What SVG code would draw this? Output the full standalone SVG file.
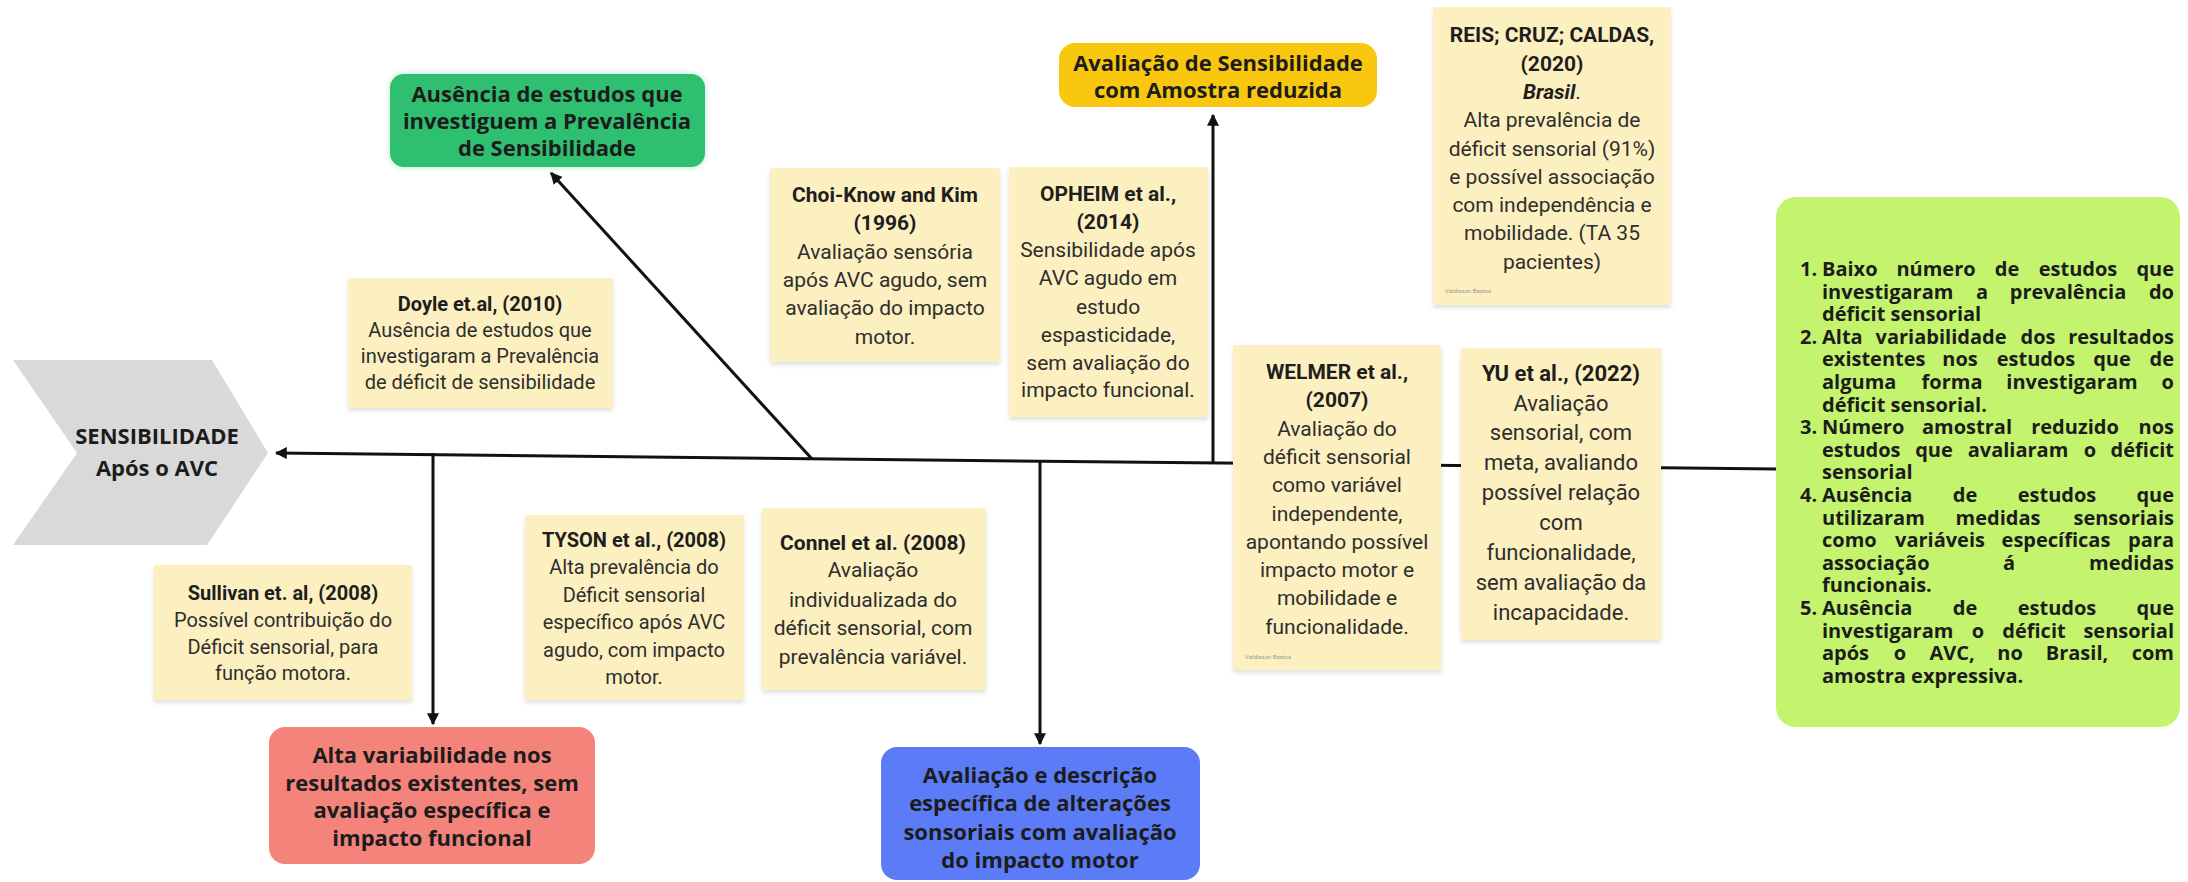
<svg xmlns="http://www.w3.org/2000/svg" width="2188" height="882" viewBox="0 0 2188 882">
<defs>
<style>
.note{fill:#fcf0c0;filter:url(#sh)}
.nt{font-family:Roboto,"Liberation Sans",sans-serif;fill:#2e2e2e;text-anchor:middle}
.nt .b{font-weight:700;fill:#1e1e1e}
.bx{font-family:"Open Sans","Noto Sans",sans-serif;font-weight:700;font-size:22px;fill:#1c1c1c;text-anchor:middle}
.gl{font-family:"Open Sans","Noto Sans",sans-serif;font-weight:700;font-size:20px;fill:#1c1c1c}
.m{text-anchor:middle}.e{text-anchor:end}
.ln{stroke:#111;stroke-width:3;fill:none}
.tiny{font-family:Roboto,sans-serif;font-size:6px;fill:#9a9a8a}
</style>
<filter id="sh" x="-10%" y="-10%" width="120%" height="125%"><feDropShadow dx="0" dy="3" stdDeviation="2" flood-color="#000" flood-opacity="0.12"/></filter>
<filter id="glow" x="-10%" y="-20%" width="120%" height="140%"><feDropShadow dx="0" dy="0" stdDeviation="3" flood-color="#2fbf71" flood-opacity="0.35"/></filter>
<marker id="ah" viewBox="0 0 10 10" refX="9" refY="5" markerWidth="4" markerHeight="4" orient="auto-start-reverse"><path d="M0,0 L10,5 L0,10 z" fill="#111"/></marker>
</defs>
<rect width="2188" height="882" fill="#fff"/>

<g id="connectors">
<path class="ln" d="M1776,469 L276,453" marker-end="url(#ah)"/>
<path class="ln" d="M812,459 L551,173" marker-end="url(#ah)"/>
<path class="ln" d="M1213,463 L1213,115" marker-end="url(#ah)"/>
<path class="ln" d="M433,453 L433,724" marker-end="url(#ah)"/>
<path class="ln" d="M1040,461 L1040,744" marker-end="url(#ah)"/>
</g>

<g id="head">
<polygon points="13,360 212,360 268,453 207,545 13,545 77,453" fill="#d9d9d9"/>
<text class="bx" x="157" y="444">SENSIBILIDADE</text>
<text class="bx" x="157" y="476">Após o AVC</text>
</g>

<g id="cat-prevalencia">
<rect x="390" y="74" width="315" height="93" rx="14" fill="#2fbf71" filter="url(#glow)"/>
<text class="bx" x="547" y="102">Ausência de estudos que</text>
<text class="bx" x="547" y="129">investiguem a Prevalência</text>
<text class="bx" x="547" y="156">de Sensibilidade</text>
</g>

<g id="cat-amostra">
<rect x="1059" y="43" width="318" height="64" rx="16" fill="#f9c80e"/>
<text class="bx" x="1218" y="71">Avaliação de Sensibilidade</text>
<text class="bx" x="1218" y="98">com Amostra reduzida</text>
</g>

<g id="cat-variabilidade">
<rect x="269" y="727" width="326" height="137" rx="16" fill="#f4837b"/>
<text class="bx" x="432" y="763">Alta variabilidade nos</text>
<text class="bx" x="432" y="791">resultados existentes, sem</text>
<text class="bx" x="432" y="818">avaliação específica e</text>
<text class="bx" x="432" y="846">impacto funcional</text>
</g>

<g id="cat-avaliacao">
<rect x="881" y="747" width="319" height="133" rx="16" fill="#5b7cf6"/>
<text class="bx" x="1040" y="783">Avaliação e descrição</text>
<text class="bx" x="1040" y="811">específica de alterações</text>
<text class="bx" x="1040" y="840">sonsoriais com avaliação</text>
<text class="bx" x="1040" y="868">do impacto motor</text>
</g>

<g id="note-doyle">
<rect class="note" x="348" y="278" width="265" height="130" rx="2"/>
<text class="nt" font-size="20"><tspan class="b" x="480" y="311">Doyle et.al, (2010)</tspan><tspan x="480" y="337">Ausência de estudos que</tspan><tspan x="480" y="363">investigaram a Prevalência</tspan><tspan x="480" y="389">de déficit de sensibilidade</tspan></text>
</g>

<g id="note-choi">
<rect class="note" x="770" y="168" width="230" height="194" rx="2"/>
<text class="nt" font-size="21"><tspan class="b" x="885" y="202">Choi-Know and Kim</tspan><tspan class="b" x="885" y="230">(1996)</tspan><tspan x="885" y="259">Avaliação sensória</tspan><tspan x="885" y="287">após AVC agudo, sem</tspan><tspan x="885" y="315">avaliação do impacto</tspan><tspan x="885" y="344">motor.</tspan></text>
</g>

<g id="note-opheim">
<rect class="note" x="1009" y="167" width="199" height="250" rx="2"/>
<text class="nt" font-size="21"><tspan class="b" x="1108" y="201">OPHEIM et al.,</tspan><tspan class="b" x="1108" y="229">(2014)</tspan><tspan x="1108" y="257">Sensibilidade após</tspan><tspan x="1108" y="285">AVC agudo em</tspan><tspan x="1108" y="314">estudo</tspan><tspan x="1108" y="342">espasticidade,</tspan><tspan x="1108" y="370">sem avaliação do</tspan><tspan x="1108" y="397">impacto funcional.</tspan></text>
</g>

<g id="note-reis">
<rect class="note" x="1433" y="7" width="238" height="298" rx="2"/>
<text class="nt" font-size="21"><tspan class="b" x="1552" y="42">REIS; CRUZ; CALDAS,</tspan><tspan class="b" x="1552" y="71">(2020)</tspan><tspan x="1552" y="99"><tspan class="b" font-style="italic">Brasil</tspan>.</tspan><tspan x="1552" y="127">Alta prevalência de</tspan><tspan x="1552" y="156">déficit sensorial (91%)</tspan><tspan x="1552" y="184">e possível associação</tspan><tspan x="1552" y="212">com independência e</tspan><tspan x="1552" y="240">mobilidade. (TA 35</tspan><tspan x="1552" y="269">pacientes)</tspan></text>
<text class="tiny" x="1445" y="293">Valdisson Bastos</text>
</g>

<g id="note-welmer">
<rect class="note" x="1233" y="345" width="208" height="325" rx="2"/>
<text class="nt" font-size="21"><tspan class="b" x="1337" y="379">WELMER et al.,</tspan><tspan class="b" x="1337" y="407">(2007)</tspan><tspan x="1337" y="436">Avaliação do</tspan><tspan x="1337" y="464">déficit sensorial</tspan><tspan x="1337" y="492">como variável</tspan><tspan x="1337" y="521">independente,</tspan><tspan x="1337" y="549">apontando possível</tspan><tspan x="1337" y="577">impacto motor e</tspan><tspan x="1337" y="605">mobilidade e</tspan><tspan x="1337" y="634">funcionalidade.</tspan></text>
<text class="tiny" x="1245" y="659">Valdisson Bastos</text>
</g>

<g id="note-yu">
<rect class="note" x="1461" y="348" width="200" height="292" rx="2"/>
<text class="nt" font-size="22"><tspan class="b" x="1561" y="381">YU et al., (2022)</tspan><tspan x="1561" y="411">Avaliação</tspan><tspan x="1561" y="440">sensorial, com</tspan><tspan x="1561" y="470">meta, avaliando</tspan><tspan x="1561" y="500">possível relação</tspan><tspan x="1561" y="530">com</tspan><tspan x="1561" y="560">funcionalidade,</tspan><tspan x="1561" y="590">sem avaliação da</tspan><tspan x="1561" y="620">incapacidade.</tspan></text>
</g>

<g id="note-sullivan">
<rect class="note" x="154" y="565" width="258" height="135" rx="2"/>
<text class="nt" font-size="20"><tspan class="b" x="283" y="600">Sullivan et. al, (2008)</tspan><tspan x="283" y="627">Possível contribuição do</tspan><tspan x="283" y="654">Déficit sensorial, para</tspan><tspan x="283" y="680">função motora.</tspan></text>
</g>

<g id="note-tyson">
<rect class="note" x="525" y="515" width="219" height="185" rx="2"/>
<text class="nt" font-size="20"><tspan class="b" x="634" y="547">TYSON et al., (2008)</tspan><tspan x="634" y="574">Alta prevalência do</tspan><tspan x="634" y="602">Déficit sensorial</tspan><tspan x="634" y="629">específico após AVC</tspan><tspan x="634" y="657">agudo, com impacto</tspan><tspan x="634" y="684">motor.</tspan></text>
</g>

<g id="note-connel">
<rect class="note" x="762" y="508" width="224" height="182" rx="2"/>
<text class="nt" font-size="21"><tspan class="b" x="873" y="550">Connel et al. (2008)</tspan><tspan x="873" y="577">Avaliação</tspan><tspan x="873" y="607">individualizada do</tspan><tspan x="873" y="635">déficit sensorial, com</tspan><tspan x="873" y="664">prevalência variável.</tspan></text>
</g>

<g id="conclusoes">
<rect x="1776" y="197" width="404" height="530" rx="20" fill="#c4f46e"/>
<g class="gl">
<text x="1800" y="276">1.</text><text x="1822" y="276">Baixo</text><text class="m" x="1936" y="276">número</text><text class="m" x="2007" y="276">de</text><text class="m" x="2078" y="276">estudos</text><text class="e" x="2174" y="276">que</text>
<text x="1822" y="299">investigaram</text><text class="m" x="1982" y="299">a</text><text class="m" x="2068" y="299">prevalência</text><text class="e" x="2174" y="299">do</text>
<text x="1822" y="321">déficit sensorial</text>
<text x="1800" y="344">2.</text><text x="1822" y="344">Alta</text><text class="m" x="1941" y="344">variabilidade</text><text class="m" x="2038" y="344">dos</text><text class="e" x="2174" y="344">resultados</text>
<text x="1822" y="366">existentes</text><text class="m" x="1960" y="366">nos</text><text class="m" x="2036" y="366">estudos</text><text class="m" x="2112" y="366">que</text><text class="e" x="2174" y="366">de</text>
<text x="1822" y="389">alguma</text><text class="m" x="1952" y="389">forma</text><text class="m" x="2072" y="389">investigaram</text><text class="e" x="2174" y="389">o</text>
<text x="1822" y="412">déficit sensorial.</text>
<text x="1800" y="434">3.</text><text x="1822" y="434">Número</text><text class="m" x="1967" y="434">amostral</text><text class="m" x="2075" y="434">reduzido</text><text class="e" x="2174" y="434">nos</text>
<text x="1822" y="457">estudos</text><text class="m" x="1934" y="457">que</text><text class="m" x="2018" y="457">avaliaram</text><text class="m" x="2090" y="457">o</text><text class="e" x="2174" y="457">déficit</text>
<text x="1822" y="479">sensorial</text>
<text x="1800" y="502">4.</text><text x="1822" y="502">Ausência</text><text class="m" x="1965" y="502">de</text><text class="m" x="2057" y="502">estudos</text><text class="e" x="2174" y="502">que</text>
<text x="1822" y="525">utilizaram</text><text class="m" x="1998" y="525">medidas</text><text class="e" x="2174" y="525">sensoriais</text>
<text x="1822" y="547">como</text><text class="m" x="1940" y="547">variáveis</text><text class="m" x="2056" y="547">específicas</text><text class="e" x="2174" y="547">para</text>
<text x="1822" y="570">associação</text><text class="m" x="2009" y="570">á</text><text class="e" x="2174" y="570">medidas</text>
<text x="1822" y="592">funcionais.</text>
<text x="1800" y="615">5.</text><text x="1822" y="615">Ausência</text><text class="m" x="1965" y="615">de</text><text class="m" x="2057" y="615">estudos</text><text class="e" x="2174" y="615">que</text>
<text x="1822" y="638">investigaram</text><text class="m" x="1978" y="638">o</text><text class="m" x="2034" y="638">déficit</text><text class="e" x="2174" y="638">sensorial</text>
<text x="1822" y="660">após</text><text class="m" x="1900" y="660">o</text><text class="m" x="1952" y="660">AVC,</text><text class="m" x="2010" y="660">no</text><text class="m" x="2077" y="660">Brasil,</text><text class="e" x="2174" y="660">com</text>
<text x="1822" y="683">amostra expressiva.</text>
</g>
</g>
</svg>
